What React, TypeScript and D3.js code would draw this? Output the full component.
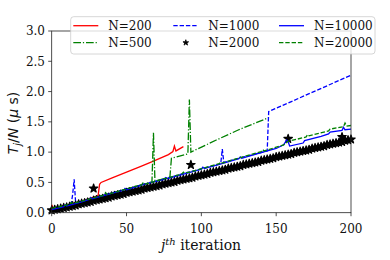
import React from "react";
import * as d3 from "d3";

// ---- data ----
const xTicks = [0, 50, 100, 150, 200];
const yTicks = [0, 0.5, 1.0, 1.5, 2.0, 2.5, 3.0];

const n200J = [0, 1, 10, 20, 31, 32, 33, 40, 50, 60, 68, 78, 81, 82, 83, 88];
const n200V = [0.13, 0.07, 0.12, 0.19, 0.28, 0.47, 0.5, 0.57, 0.67, 0.77, 0.85, 0.96, 1.01, 1.1, 1.02, 1.09];

const n500J = [0, 20, 40, 60, 67, 68, 69, 79, 80, 91, 92, 93, 110, 125, 145];
const n500V = [0.06, 0.18, 0.32, 0.46, 0.51, 1.32, 0.52, 0.59, 0.9, 0.97, 1.87, 1.0, 1.2, 1.37, 1.57];

const n1000J = [0, 13, 14, 15, 16, 30, 50, 70, 90, 112, 113, 114, 115, 130, 144, 145, 200];
const n1000V = [0.06, 0.14, 0.3, 0.55, 0.16, 0.26, 0.39, 0.52, 0.66, 0.8, 0.82, 1.05, 0.83, 0.93, 1.02, 1.67, 2.27];

const n2000J = d3.range(0, 201, 2).concat([28, 93, 158, 194]);
const n2000V = [
  0.04, 0.05, 0.06, 0.07, 0.08, 0.09, 0.1, 0.11, 0.12, 0.14,
  0.15, 0.16, 0.17, 0.18, 0.2, 0.21, 0.22, 0.23, 0.24, 0.25,
  0.27, 0.28, 0.29, 0.3, 0.31, 0.33, 0.34, 0.35, 0.36, 0.37,
  0.38, 0.4, 0.41, 0.42, 0.43, 0.44, 0.45, 0.47, 0.48, 0.49,
  0.5, 0.51, 0.53, 0.54, 0.55, 0.56, 0.57, 0.58, 0.6, 0.61,
  0.62, 0.63, 0.64, 0.66, 0.67, 0.68, 0.69, 0.7, 0.71, 0.73,
  0.74, 0.75, 0.76, 0.77, 0.79, 0.8, 0.81, 0.82, 0.83, 0.84,
  0.86, 0.87, 0.88, 0.89, 0.9, 0.92, 0.93, 0.94, 0.95, 0.96,
  0.97, 0.99, 1.0, 1.01, 1.02, 1.03, 1.04, 1.06, 1.07, 1.08,
  1.09, 1.1, 1.12, 1.13, 1.14, 1.15, 1.16, 1.17, 1.19, 1.2,
  1.21,
  0.4, 0.79, 1.22, 1.25,
];

const n10000J = [0, 8, 9, 10, 20, 25, 26, 27, 40, 48, 49, 50, 62, 75, 76, 77, 90, 100, 101, 102, 115, 125, 126, 127, 140, 150, 155, 157, 158, 159, 168, 169, 180, 185, 186, 194, 195, 196, 200];
const n10000V = [0.05, 0.1, 0.13, 0.11, 0.18, 0.22, 0.25, 0.23, 0.32, 0.37, 0.4, 0.38, 0.47, 0.55, 0.58, 0.56, 0.65, 0.72, 0.75, 0.73, 0.82, 0.89, 0.92, 0.9, 0.99, 1.06, 1.12, 1.2, 1.17, 1.1, 1.15, 1.19, 1.26, 1.3, 1.33, 1.36, 1.41, 1.37, 1.38];

const n20000J = [0, 12, 13, 14, 30, 35, 36, 37, 55, 60, 61, 62, 80, 87, 88, 89, 105, 112, 113, 114, 130, 140, 141, 142, 155, 158, 160, 170, 171, 172, 185, 186, 195, 196, 197, 200];
const n20000V = [0.07, 0.14, 0.17, 0.15, 0.26, 0.29, 0.33, 0.3, 0.43, 0.46, 0.49, 0.47, 0.59, 0.64, 0.67, 0.65, 0.76, 0.81, 0.84, 0.82, 0.94, 1.01, 1.04, 1.02, 1.12, 1.18, 1.19, 1.25, 1.29, 1.27, 1.35, 1.38, 1.42, 1.48, 1.43, 1.44];

const legendLabels = ["N=200", "N=500", "N=1000", "N=2000", "N=10000", "N=20000"];

const SERIF = "'DejaVu Serif', serif";
const SANS = "'DejaVu Sans', sans-serif";

export default function App() {
  const x = d3.scaleLinear().domain([0, 200]).range([51.7, 351]);
  const y = d3.scaleLinear().domain([0, 3]).range([212.7, 31]);
  const line = (js: number[], vs: number[]) =>
    d3.line<number>().x((_, i) => x(js[i])).y((v) => y(v))(vs) || "";
  const star = d3.symbol().type(d3.symbolStar).size(22)() || "";
  const starLegend = d3.symbol().type(d3.symbolStar).size(10)() || "";

  const dashed = "4.4,1.9";
  const dashdot = "7.7,1.9,1.2,1.9";
  const LW = 1.3;

  const series = [
    { d: line(n200J, n200V), color: "#ff0000", dash: undefined },
    { d: line(n500J, n500V), color: "#008000", dash: dashdot },
    { d: line(n1000J, n1000V), color: "#0000ff", dash: dashed },
  ];
  const series2 = [
    { d: line(n10000J, n10000V), color: "#0000ff", dash: undefined },
    { d: line(n20000J, n20000V), color: "#008000", dash: dashed },
  ];

  const legendItems = [
    { label: legendLabels[0], color: "#ff0000", dash: undefined, marker: false },
    { label: legendLabels[2], color: "#0000ff", dash: dashed, marker: false },
    { label: legendLabels[4], color: "#0000ff", dash: undefined, marker: false },
    { label: legendLabels[1], color: "#008000", dash: dashdot, marker: false },
    { label: legendLabels[3], color: "#000000", dash: undefined, marker: true },
    { label: legendLabels[5], color: "#008000", dash: dashed, marker: false },
  ];
  const colX = [73.3, 173.3, 279];
  const rowY = [25.7, 42.7];

  return (
    <svg
      width={390}
      height={260}
      style={{ position: "fixed", left: 0, top: 0, background: "#fff", fontFamily: SERIF }}
    >
      <rect x={0} y={0} width={390} height={260} fill="#fff" />
      <g>
        {series.map((s, i) => (
          <path key={i} d={s.d} fill="none" stroke={s.color} strokeWidth={LW} strokeDasharray={s.dash} />
        ))}
        {n2000V.map((v, i) => (
          <path key={i} d={star} transform={`translate(${x(n2000J[i])},${y(v)})`} fill="#000" stroke="#000" strokeWidth={1.2} strokeLinejoin="round" />
        ))}
        {series2.map((s, i) => (
          <path key={i} d={s.d} fill="none" stroke={s.color} strokeWidth={LW} strokeDasharray={s.dash} />
        ))}
      </g>
      {/* spines */}
      <rect x={51.7} y={31} width={351 - 51.7} height={212.7 - 31} fill="none" stroke="#222" strokeWidth={0.8} />
      {xTicks.map((t) => (
        <g key={t}>
          <line x1={x(t)} x2={x(t)} y1={212.7} y2={216.2} stroke="#222" strokeWidth={0.8} />
          <text x={x(t)} y={232.5} textAnchor="middle" fontSize={12} fill="#111" style={{ fontFamily: SERIF }}>
            {t}
          </text>
        </g>
      ))}
      {yTicks.map((t) => (
        <g key={t}>
          <line x1={48.2} x2={51.7} y1={y(t)} y2={y(t)} stroke="#222" strokeWidth={0.8} />
          <text x={45} y={y(t) + 4.3} textAnchor="end" fontSize={12} fill="#111" style={{ fontFamily: SERIF }}>
            {t.toFixed(1)}
          </text>
        </g>
      ))}
      {/* x label */}
      <text x={201} y={250} textAnchor="middle" fontSize={14} fill="#111" style={{ fontFamily: SERIF }}>
        <tspan fontStyle="italic">j</tspan>
        <tspan fontStyle="italic" fontSize={10} dy={-5}>th</tspan>
        <tspan dy={5}> iteration</tspan>
      </text>
      {/* y label */}
      <text transform="translate(18,123) rotate(-90)" textAnchor="middle" fontSize={14} fill="#111" style={{ fontFamily: SANS }}>
        <tspan fontStyle="italic">T</tspan>
        <tspan fontStyle="italic" fontSize={10} dy={3}>j</tspan>
        <tspan dy={-3}>/</tspan>
        <tspan fontStyle="italic">N</tspan>
        <tspan> (</tspan>
        <tspan fontStyle="italic">μ</tspan>
        <tspan> s)</tspan>
      </text>
      {/* legend */}
      <rect x={70.7} y={16.7} width={304.3} height={37.3} rx={3} fill="#fff" fillOpacity={0.8} stroke="#ccc" strokeWidth={0.8} />
      {legendItems.map((it, i) => {
        const cx = colX[i % 3];
        const cy = rowY[Math.floor(i / 3)];
        return (
          <g key={i}>
            {it.marker ? (
              <path d={starLegend} transform={`translate(${cx + 12.5},${cy})`} fill="#000" stroke="#000" strokeWidth={0.8} />
            ) : (
              <line x1={cx} x2={cx + 25} y1={cy} y2={cy} stroke={it.color} strokeWidth={LW} strokeDasharray={it.dash} />
            )}
            <text x={cx + 35} y={cy + 4.3} fontSize={12} fill="#111" style={{ fontFamily: SERIF }}>
              {it.label}
            </text>
          </g>
        );
      })}
    </svg>
  );
}
